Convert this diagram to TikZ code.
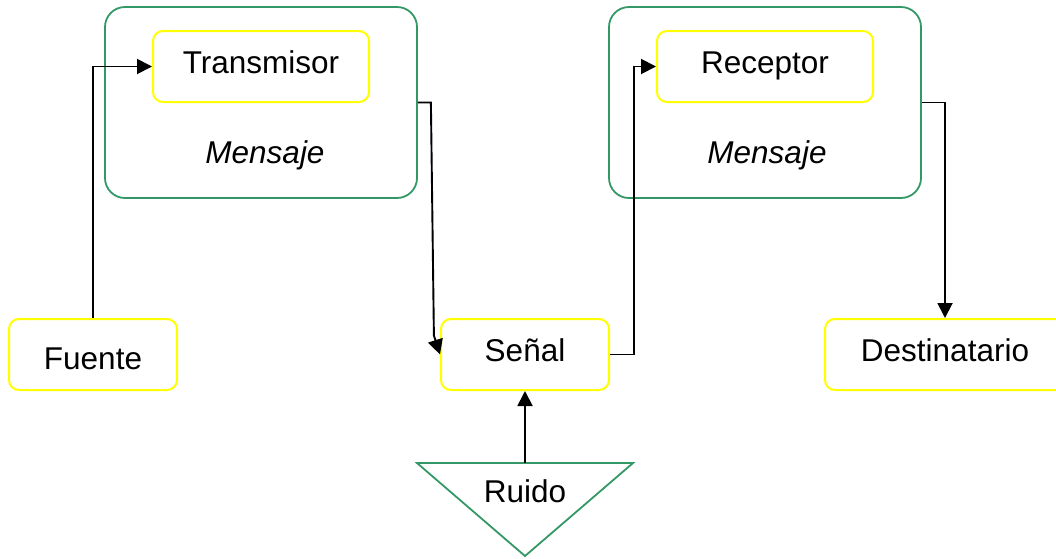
\documentclass[tikz,border=0pt]{standalone}
\usepackage{fontspec}
\setmainfont{Liberation Sans}
\usetikzlibrary{arrows.meta}
\definecolor{grn}{RGB}{52,152,102}
\definecolor{ylw}{RGB}{255,255,0}
\begin{document}
\begin{tikzpicture}[x=1pt,y=-1pt,
  txt/.style={font=\fontsize{31.5}{36}\selectfont},
  group/.style={draw=grn,line width=1.8pt,rounded corners=20pt,minimum width=312pt,minimum height=191pt,inner sep=0pt},
  ybox/.style={draw=ylw,line width=2pt,rounded corners=10pt,inner sep=0pt,txt,text height=24pt,text depth=11pt},
  conn/.style={line width=1.9pt,-{Triangle[length=15pt,width=15pt]}}]
\useasboundingbox (0,0) rectangle (1056,558);
% groups
\node[group] (gl) at (261,102.5) {};
\node[group] (gr) at (765,102.5) {};
\node[ybox,minimum width=216pt,minimum height=71pt] (tx) at (261,66.5) {Transmisor};
\node[ybox,minimum width=216pt,minimum height=71pt] (rx) at (765,66.5) {Receptor};
\node[txt,anchor=base,font=\fontsize{31.5}{36}\selectfont\itshape] (ml) at (265,163) {Mensaje};
\node[txt,anchor=base,font=\fontsize{31.5}{36}\selectfont\itshape] (mr) at (767,163) {Mensaje};
% bottom boxes
\node[ybox,minimum width=168pt,minimum height=71pt,text height=29pt,text depth=0pt] (fu) at (93,354.5) {Fuente};
\node[ybox,minimum width=168pt,minimum height=71pt] (se) at (525,354.5) {Señal};
\node[ybox,minimum width=240pt,minimum height=71pt] (de) at (945,354.5) {Destinatario};
% noise triangle
\coordinate (ta) at (417,463);
\coordinate (tb) at (633,463);
\coordinate (tc) at (525,556);
\coordinate (rt) at (525,463);
\draw[grn,line width=1.8pt,line join=miter] (ta) -- (tb) -- (tc) -- cycle;
\node[txt,anchor=base] (ru) at (525,502) {Ruido};
% connectors
\draw[conn] (fu.north) |- (tx.west);
\draw[conn] (gl.east) -- ++(13,0) -- ++(3,233) -- (se.west);
\draw[conn] (se.east) -- ++(24,0) |- (rx.west);
\draw[conn] (gr.east) -| (de.north);
\draw[conn] (rt) -- (se.south);
\end{tikzpicture}
\end{document}
